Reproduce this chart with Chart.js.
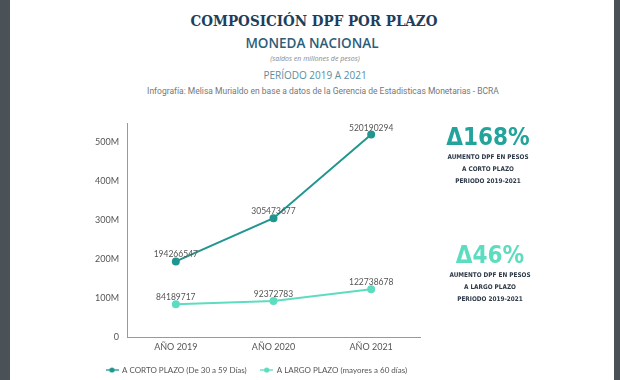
<!DOCTYPE html>
<html>
<head>
<meta charset="utf-8">
<script src="https://cdn.jsdelivr.net/npm/chart.js@4"></script>
<style>
  html,body{margin:0;padding:0;width:620px;height:380px;overflow:hidden;background:#fff;}
  .band{position:absolute;top:0;height:380px;background:#4b5257;}
  .t{position:absolute;left:0;width:620px;text-align:center;white-space:nowrap;}
  #c{position:absolute;left:0;top:0;}
  .ann{position:absolute;width:160px;text-align:center;}
  .big{font-family:"DejaVu Sans Condensed","DejaVu Sans";font-weight:bold;font-size:24px;line-height:28px;}
  .sm{font-family:"DejaVu Sans Condensed","DejaVu Sans";font-weight:bold;font-size:6.4px;color:#2e3a48;line-height:12px;}
</style>
</head>
<body>
<div class="band" style="left:0;width:10px;"></div>
<div class="band" style="left:614px;width:6px;"></div>
<div class="t" style="top:12px;left:4px;font-family:'DejaVu Serif Condensed','DejaVu Serif';font-weight:bold;font-size:15px;color:#1d3f5c;">COMPOSICIÓN DPF POR PLAZO</div>
<div class="t" style="top:34px;left:2px;font-family:'Open Sans';font-weight:600;font-size:13.5px;color:#2e5d78;">MONEDA NACIONAL</div>
<div class="t" style="top:54px;left:5px;font-family:'Open Sans';font-style:italic;font-size:7px;color:#888;">(saldos en millones de pesos)</div>
<div class="t" style="top:68px;left:5px;font-family:'Open Sans';font-size:10px;color:#5a8ea0;">PERÍODO 2019 A 2021</div>
<div class="t" style="top:86px;left:13px;font-family:'Roboto';font-size:8.5px;color:#777;">Infografía: Melisa Murialdo en base a datos de la Gerencia de Estadisticas Monetarias - BCRA</div>

<canvas id="c" width="620" height="380"></canvas>

<div class="ann" style="left:408px;top:123px;">
  <div class="big" style="color:#22a39c;">Δ168%</div>
  <div class="sm">AUMENTO DPF EN PESOS<br>A CORTO PLAZO<br>PERIODO 2019-2021</div>
</div>
<div class="ann" style="left:410px;top:241px;">
  <div class="big" style="color:#5ddcc0;">Δ46%</div>
  <div class="sm">AUMENTO DPF EN PESOS<br>A LARGO PLAZO<br>PERIODO 2019-2021</div>
</div>

<script>
const categories = ["AÑO 2019", "AÑO 2020", "AÑO 2021"];
const cortoPlazo = [194266547, 305473677, 520190294];
const largoPlazo = [84189717, 92372783, 122738678];
const seriesNames = ["A CORTO PLAZO (De 30 a 59 Días)", "A LARGO PLAZO (mayores a 60 días)"];
const yTickValues = [0, 100000000, 200000000, 300000000, 400000000, 500000000];
const yTickLabels = ["0", "100M", "200M", "300M", "400M", "500M"];
const colCorto = "#20968f";
const colLargo = "#5ddcc0";

function legendIcon(color){
  const cv = document.createElement('canvas');
  cv.width = 13; cv.height = 8;
  const x = cv.getContext('2d');
  x.strokeStyle = color; x.lineWidth = 1.3;
  x.beginPath(); x.moveTo(0,4); x.lineTo(13,4); x.stroke();
  x.fillStyle = color; x.beginPath(); x.arc(6.5,4,2.6,0,Math.PI*2); x.fill();
  return cv;
}

const labelPlugin = {
  id: 'valueLabels',
  afterDatasetsDraw(chart){
    const ctx = chart.ctx;
    ctx.save();
    ctx.font = '8.5px Lato';
    ctx.fillStyle = '#555';
    ctx.textAlign = 'center';
    ctx.textBaseline = 'alphabetic';
    chart.data.datasets.forEach((ds, i) => {
      const meta = chart.getDatasetMeta(i);
      meta.data.forEach((pt, j) => {
        ctx.fillText(String(ds.data[j]), pt.x, pt.y - 4);
      });
    });
    ctx.restore();
  }
};

new Chart(document.getElementById('c'), {
  type: 'line',
  data: {
    labels: categories,
    datasets: [
      {label: seriesNames[0], data: cortoPlazo, borderColor: colCorto, backgroundColor: colCorto,
       borderWidth: 2, pointRadius: 3, pointHoverRadius: 3, pointStyle: 'circle', tension: 0},
      {label: seriesNames[1], data: largoPlazo, borderColor: colLargo, backgroundColor: colLargo,
       borderWidth: 2, pointRadius: 3, pointHoverRadius: 3, pointStyle: 'circle', tension: 0}
    ]
  },
  options: {
    responsive: false,
    animation: false,
    layout: {padding: {left: 92, right: 160, top: 123, bottom: -4}},
    plugins: {
      tooltip: {enabled: false},
      legend: {
        position: 'bottom',
        align: 'start',
        labels: {
          font: {family: 'Lato', size: 8},
          color: '#555',
          boxWidth: 14,
          pointStyleWidth: 12,
          padding: 14,
          usePointStyle: true,
          generateLabels(chart){
            return chart.data.datasets.map((ds,i)=>({
              text: ds.label, fillStyle: ds.borderColor, strokeStyle: ds.borderColor,
              pointStyle: legendIcon(ds.borderColor), datasetIndex: i, hidden: false, lineWidth: 0, fontColor: '#555'
            }));
          }
        }
      }
    },
    scales: {
      x: {
        offset: true,
        grid: {display: false, drawTicks: false},
        border: {display: true, color: '#999', width: 1},
        ticks: {font: {family: 'Lato', size: 9}, color: '#555', padding: 5},
        afterFit(s){ s.height = 15; }
      },
      y: {
        min: 0, max: 550000000,
        grid: {display: false, drawTicks: false},
        border: {display: true, color: '#999', width: 1},
        afterBuildTicks(s){ s.ticks = yTickValues.map(v => ({value: v})); },
        ticks: {
          autoSkip: false,
          font: {family: 'Lato', size: 9}, color: '#555', padding: 8,
          callback: function(v){
            const i = yTickValues.indexOf(Number(v));
            return i >= 0 ? yTickLabels[i] : '';
          }
        },
        afterFit(s){ s.width = 35; }
      },
      ySpace: {
        position: 'right',
        min: 0, max: 1,
        grid: {display: false, drawTicks: false},
        border: {display: false},
        ticks: {display: false},
        afterFit(s){ s.width = 40; }
      }
    }
  },
  plugins: [labelPlugin]
});
</script>
</body>
</html>
